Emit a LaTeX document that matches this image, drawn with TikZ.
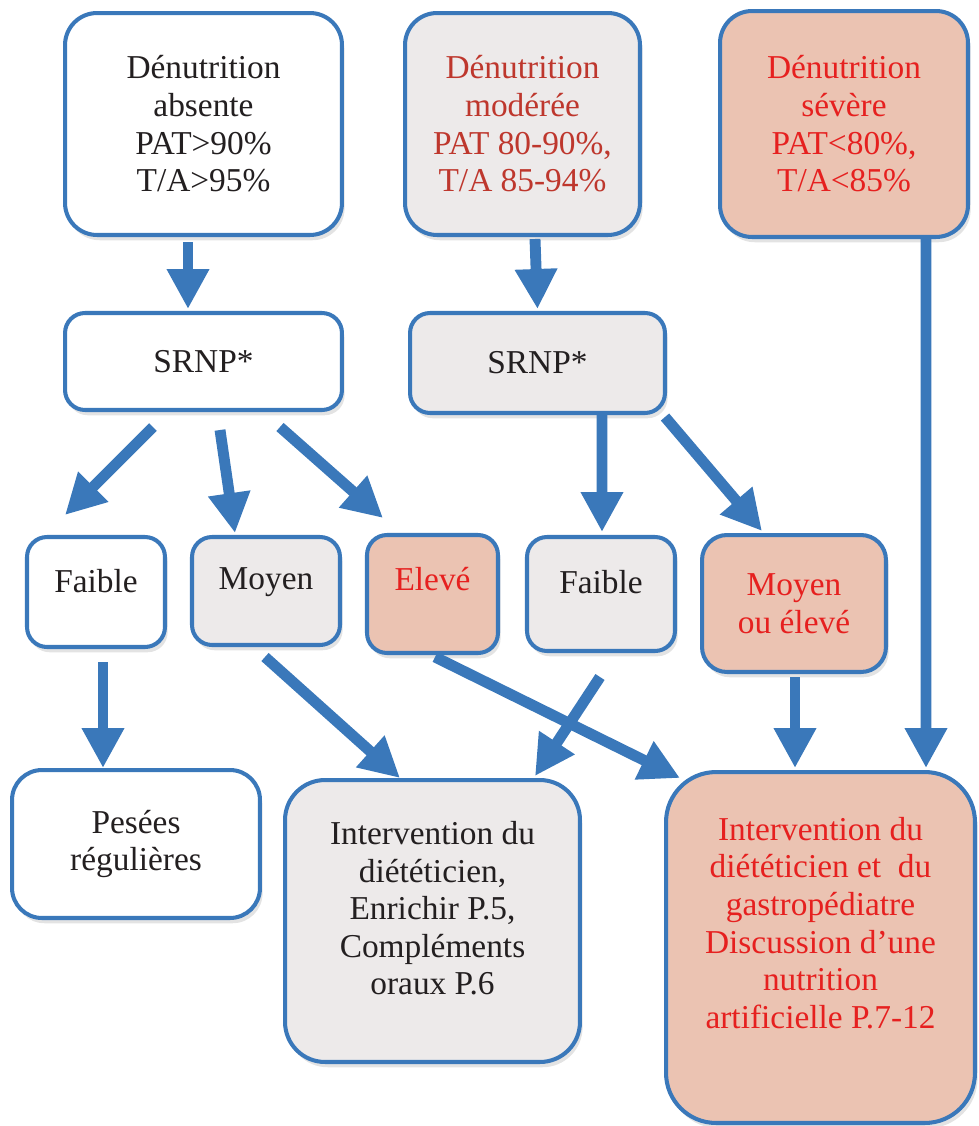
\documentclass[tikz,border=0pt]{standalone}
\usepackage{fontspec}
\setmainfont{Liberation Serif}
\usetikzlibrary{arrows.meta,calc,shadows}
\definecolor{nutblue}{rgb}{0.227, 0.471, 0.729}
\definecolor{nutgrey}{rgb}{0.929, 0.918, 0.918}
\definecolor{nutsalmon}{rgb}{0.922, 0.765, 0.698}
\definecolor{nutdarkred}{rgb}{0.745, 0.216, 0.176}
\definecolor{nutred}{rgb}{0.902, 0.125, 0.122}
\definecolor{nutink}{rgb}{0.137, 0.122, 0.125}
\tikzset{box/.style={draw=nutblue, line width=2.3pt, align=center, text=nutink, inner sep=2pt, font=\fontsize{19}{21.4}\selectfont, drop shadow={shadow xshift=1.5pt, shadow yshift=-3pt, opacity=0.22}}}
\tikzset{wbox/.style={box, fill=white}}
\tikzset{gbox/.style={box, fill=nutgrey}}
\tikzset{rbox/.style={box, fill=nutsalmon, text=nutred}}
\tikzset{arr/.style={line width=6.2pt, color=nutblue, -{Triangle[width=0.8cm, length=0.8cm]}}}

\begin{document}
\begin{tikzpicture}[x=0.02cm, y=-0.02cm]%{{{
        \useasboundingbox (0,0) rectangle (978,1126);

        % denutrition
        \node[wbox, minimum width=5.54cm, minimum height=4.44cm, rounded corners=0.64cm] (Dabs) at (203.5, 124)
        {Dénutrition\\absente\\PAT>90\%\\T/A>95\%};
        \node[gbox, text=nutdarkred, minimum width=4.7cm, minimum height=4.44cm, rounded corners=0.64cm] (Dmod) at (522.5, 124)
        {Dénutrition\\modérée\\PAT 80-90\%,\\T/A 85-94\%};
        \node[rbox, minimum width=4.96cm, minimum height=4.52cm, rounded corners=0.64cm] (Dsev) at (844, 124)
        {Dénutrition\\sévère\\PAT<80\%,\\T/A<85\%};

        % SRNP
        \node[wbox, minimum width=5.54cm, minimum height=1.94cm, rounded corners=0.4cm] (Sa) at (203.5, 361.5) {SRNP*};
        \node[gbox, minimum width=5.1cm, minimum height=2cm, rounded corners=0.4cm] (Sb) at (537.5, 363) {SRNP*};

        % risque
        \node[wbox, text depth=0.45cm, minimum width=2.76cm, minimum height=2.2cm, rounded corners=0.4cm] (Fa) at (96, 592) {Faible};
        \node[gbox, text depth=0.5cm, minimum width=2.96cm, minimum height=2.16cm, rounded corners=0.4cm] (Mo) at (266, 591) {Moyen};
        \node[rbox, text depth=0.6cm, minimum width=2.62cm, minimum height=2.36cm, rounded corners=0.4cm] (El) at (432.5, 594) {Elevé};
        \node[gbox, text depth=0.5cm, minimum width=2.96cm, minimum height=2.28cm, rounded corners=0.4cm] (Fb) at (601, 594) {Faible};
        \node[rbox, minimum width=3.68cm, minimum height=2.74cm, rounded corners=0.5cm] (Me) at (794, 603.5) {Moyen\\ou élevé};

        % prise en charge
        \node[wbox, minimum width=4.96cm, minimum height=2.96cm, rounded corners=0.6cm] (Pe) at (136, 844)
        {Pesées\\régulières};
        \node[gbox, minimum width=5.9cm, minimum height=5.64cm, rounded corners=0.8cm] (Id) at (432.5, 921)
        {Intervention du\\diététicien,\\Enrichir P.5,\\Compléments\\oraux P.6\\[-0.24cm]\mbox{}};
        \node[rbox, minimum width=6.18cm, minimum height=7.02cm, rounded corners=1cm] (Ig) at (820.5, 947.5)
        {Intervention du\\diététicien et~ du\\gastropédiatre\\Discussion d’une\\nutrition\\artificielle P.7-12\\[0.24cm]\mbox{}};

        \draw [arr] ($(Dabs.south)+(-15.5,5)$) -- ($(Sa.north)+(-15.5,-2)$);
        \draw [arr] ($(Dmod.south)+(12.5,2)$) -- ($(Sb.north)+(0,-2)$);
        \draw [arr] ($(Dsev.south)+(82,0)$) -- ($(Ig.north)+(105.5,-2)$);

        \draw [arr] ($(Sa.south)+(-50.5,15)$) -- ($(Fa.north)+(-31,-20)$);
        \draw [arr] ($(Sa.south)+(16.5,18)$) -- ($(Mo.north)+(-31,-2)$);
        \draw [arr] ($(Sa.south)+(76.5,15)$) -- ($(El.north)+(-49.5,-15)$);
        \draw [arr] ($(Sb.south)+(64.5,0)$) -- ($(Fb.north)+(1,-3)$);
        \draw [arr] ($(Sb.south)+(127.5,2)$) -- ($(Me.north)+(-32,-2)$);

        \draw [arr] ($(Fa.south)+(7,13)$) -- ($(Pe.north)+(-33,0)$);
        \draw [arr] ($(Mo.south)+(-1,10)$) -- ($(Id.north)+(-32.5,0)$);
        \draw [arr] ($(El.south)+(2.5,2)$) -- ($(Ig.north)+(-140.5,8)$);
        \draw [arr] ($(Fb.south)+(-1,24)$) -- ($(Id.north)+(102.5,-2)$);
        \draw [arr] ($(Me.south)+(1,3)$) -- ($(Ig.north)+(-25.5,-2)$);
    \end{tikzpicture}
\end{document}
